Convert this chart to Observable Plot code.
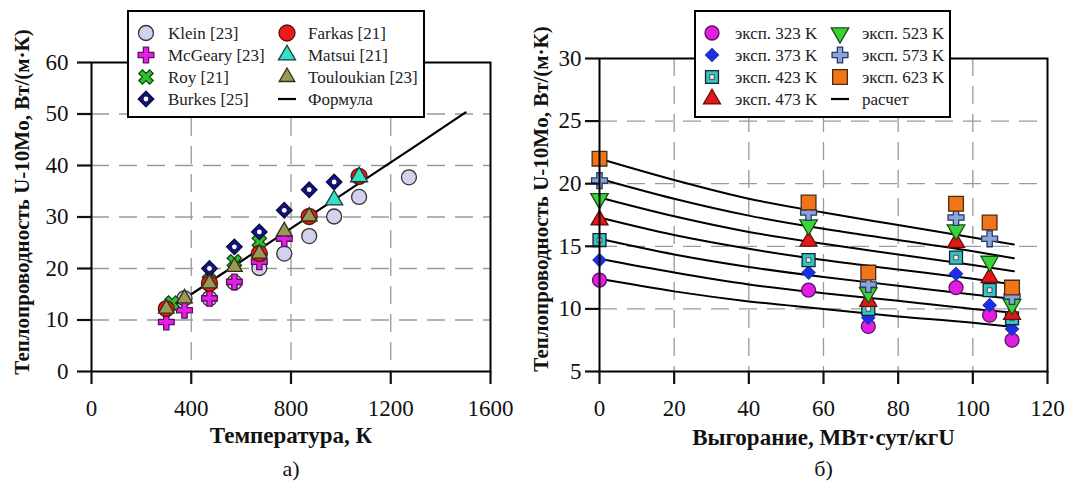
<!DOCTYPE html>
<html><head><meta charset="utf-8">
<script src="https://cdn.jsdelivr.net/npm/d3@7"></script>
<script src="https://cdn.jsdelivr.net/npm/@observablehq/plot@0.6"></script>
<style>
body{margin:0;background:#fff;width:1066px;height:483px;overflow:hidden;position:relative;}
#left,#right{position:absolute;top:0;}
#left{left:0}
#right{left:520px}
#overlay{position:absolute;top:0;left:0;pointer-events:none;}
</style></head><body>
<div id="left"></div><div id="right"></div>
<svg id="overlay" width="1066" height="483"></svg>
<script>
// ---------- Panel a) data ----------
const tempTicks = [0, 400, 800, 1200, 1600];
const condTicksA = [0, 10, 20, 30, 40, 50, 60];
const kleinT = [373, 473, 573, 673, 773, 873, 973, 1073, 1273];
const kleinK = [14.2, 14.2, 17.3, 20.1, 22.9, 26.3, 30.1, 33.9, 37.7];
const mcgearyT = [300, 373, 473, 573, 673, 773];
const mcgearyK = [9.6, 11.9, 14.2, 17.4, 21.3, 25.8];
const royT = [323, 473, 573, 673];
const royK = [13.3, 17.6, 21.3, 25.2];
const burkesT = [473, 573, 673, 773, 873, 973];
const burkesK = [20.0, 24.2, 27.1, 31.3, 35.3, 36.8];
const farkasT = [300, 473, 673, 873, 1073];
const farkasK = [12.2, 17.1, 22.9, 30.1, 37.9];
const matsuiT = [973, 1073];
const matsuiK = [33.3, 37.8];
const toulT = [300, 373, 473, 573, 673, 773, 873];
const toulK = [12.2, 14.2, 17.1, 20.3, 22.9, 27.2, 30.1];
const formulaT = [300, 500, 700, 900, 1100, 1300, 1500];
const formulaK = [11.8, 18.2, 24.6, 31.0, 37.4, 43.8, 50.3];

// ---------- Panel б) data ----------
const burnTicks = [0, 20, 40, 60, 80, 100, 120];
const condTicksB = [5, 10, 15, 20, 25, 30];
const burnup = [0, 56, 72, 95.5, 104.5, 110.5];
const exp323 = [12.3, 11.5, 8.6, 11.7, 9.5, 7.5];
const exp373 = [13.9, 12.9, 9.3, 12.8, 10.3, 8.4];
const exp423 = [15.5, 13.9, 10.0, 14.1, 11.5, 9.25];
const exp473 = [17.1, 15.4, 10.6, 15.3, 12.5, 9.55];
const exp523 = [18.8, 16.7, 11.3, 16.3, 13.8, 10.35];
const exp573 = [20.25, 17.7, 11.95, 17.3, 15.6, 11.0];
const exp623 = [22.0, 18.5, 12.9, 18.4, 16.9, 11.7];
const calcBurnup = [0, 20, 40, 60, 80, 100, 111];
const calc323 = [12.4, 11.4, 10.6, 10.0, 9.4, 8.9, 8.55];
const calc373 = [14.0, 12.9, 11.95, 11.25, 10.65, 10.0, 9.7];
const calc423 = [15.6, 14.35, 13.35, 12.55, 11.85, 11.15, 10.8];
const calc473 = [17.3, 15.9, 14.8, 13.9, 13.15, 12.4, 11.95];
const calc523 = [18.9, 17.4, 16.15, 15.2, 14.35, 13.5, 13.0];
const calc573 = [20.4, 18.8, 17.45, 16.4, 15.5, 14.6, 14.05];
const calc623 = [22.0, 20.3, 18.8, 17.7, 16.7, 15.7, 15.15];

// ---------- symbols ----------
const symX = {draw(ctx, size){
  const r = Math.sqrt(size / 5) / 2, c = Math.SQRT1_2;
  const p = [[-3*r,-r],[-r,-r],[-r,-3*r],[r,-3*r],[r,-r],[3*r,-r],[3*r,r],[r,r],[r,3*r],[-r,3*r],[-r,r],[-3*r,r]];
  p.forEach(([x,y],i)=>{const X=(x-y)*c, Y=(x+y)*c; i?ctx.lineTo(X,Y):ctx.moveTo(X,Y);});
  ctx.closePath();
}};
const symTriDown = {draw(ctx, size){
  const s3 = Math.sqrt(3), y = -Math.sqrt(size / (s3 * 3));
  ctx.moveTo(0, -y * 2); ctx.lineTo(-s3 * y, y); ctx.lineTo(s3 * y, y); ctx.closePath();
}};

const FONT = '"Liberation Serif","Times New Roman","DejaVu Serif",serif';
const pts = (xs, ys) => xs.map((x, i) => ({x, y: ys[i]}));

const seriesA = [
  {name:"Klein [23]", xs:kleinT, ys:kleinK, sym:d3.symbolCircle, r:7.5, fill:"#d2d2ee", stroke:"#333"},
  {name:"McGeary [23]", xs:mcgearyT, ys:mcgearyK, sym:d3.symbolCross, r:6.6, fill:"#e61ee6", stroke:"#5a1060"},
  {name:"Roy [21]", xs:royT, ys:royK, sym:symX, r:6.4, fill:"#2ec02e", stroke:"#114411"},
  {name:"Burkes [25]", xs:burkesT, ys:burkesK, sym:d3.symbolDiamond2, r:7, fill:"#141478", stroke:"#0a0a40", inner:{sym:d3.symbolCircle, r:2.4, fill:"#fff"}},
  {name:"Farkas [21]", xs:farkasT, ys:farkasK, sym:d3.symbolCircle, r:8, fill:"#ee1a1a", stroke:"#551111"},
  {name:"Matsui [21]", xs:matsuiT, ys:matsuiK, sym:d3.symbolTriangle, r:6.3, fill:"#35e0c4", stroke:"#1a3a3a"},
  {name:"Touloukian [23]", xs:toulT, ys:toulK, sym:d3.symbolTriangle, r:5.8, fill:"#9c9858", stroke:"#303018"}
];
const seriesB = [
  {name:"эксп. 323 K", ys:exp323, calc:calc323, sym:d3.symbolCircle, r:7, fill:"#e21ee2", stroke:"#5a1060"},
  {name:"эксп. 373 K", ys:exp373, calc:calc373, sym:d3.symbolDiamond2, r:5.8, fill:"#1a30e6", stroke:"#1a30c0"},
  {name:"эксп. 423 K", ys:exp423, calc:calc423, sym:d3.symbolSquare, r:7.3, fill:"#36c4c0", stroke:"#123"},
  {name:"эксп. 473 K", ys:exp473, calc:calc473, sym:d3.symbolTriangle, r:6.3, fill:"#e41616", stroke:"#601010"},
  {name:"эксп. 523 K", ys:exp523, calc:calc523, sym:symTriDown, r:6.5, fill:"#3ad43a", stroke:"#145014"},
  {name:"эксп. 573 K", ys:exp573, calc:calc573, sym:d3.symbolCross, r:6.7, fill:"#8aa4dc", stroke:"#2a3a60"},
  {name:"эксп. 623 K", ys:exp623, calc:calc623, sym:d3.symbolSquare, r:8.3, fill:"#f2741a", stroke:"#4a2a10"}
];
seriesB[2].inner = {sym:d3.symbolSquare, r:2.6, fill:"#f6eaf4", stroke:"#333"};

function dotMarks(data, s){
  const m = [Plot.dot(data, {x:"x", y:"y", symbol:s.sym, r:s.r, fill:s.fill, stroke:s.stroke, strokeWidth:1.3})];
  if (s.inner) m.push(Plot.dot(data, {x:"x", y:"y", symbol:s.inner.sym, r:s.inner.r, fill:s.inner.fill, stroke:s.inner.stroke || "none", strokeWidth:0.8}));
  return m;
}

const grid = {stroke:"#9a9a9a", strokeOpacity:1, strokeWidth:1.3, strokeDasharray:"18,10"};
const TICK = 23, XLAB = 23, YLAB = 21;

// ---------- Panel a) ----------
const plotA = Plot.plot({
  width: 530, height: 483,
  marginLeft: 91, marginRight: 40, marginTop: 62, marginBottom: 112,
  style: {fontFamily: FONT, fontSize: TICK + "px", color: "#111", background: "transparent"},
  x: {domain: [0, 1600]},
  y: {domain: [0, 60]},
  marks: [
    Plot.gridX(tempTicks.slice(1, -1), grid),
    Plot.gridY(condTicksA.slice(1, -1), grid),
    Plot.line(pts(formulaT, formulaK), {x:"x", y:"y", stroke:"#000", strokeWidth:2.2}),
    ...seriesA.flatMap(s => dotMarks(pts(s.xs, s.ys), s)),
    Plot.frame({stroke:"#000", strokeWidth:2}),
    Plot.axisX(tempTicks, {tickSize:13, tickPadding:15, strokeWidth:2.2, label:null, tickFormat:d=>String(d), fontSize:TICK}),
    Plot.axisY(condTicksA, {tickSize:14, tickPadding:9, strokeWidth:2.2, label:null, tickFormat:d=>String(d), fontSize:TICK}),
    Plot.text(["Теплопроводность U-10Mo, Вт/(м·К)"], {frameAnchor:"left", textAnchor:"middle", rotate:-90, dx:-69, dy:-15, fontWeight:"bold", fontSize:YLAB}),
    Plot.text(["Температура, К"], {frameAnchor:"bottom", textAnchor:"middle", lineAnchor:"middle", dy:64, fontWeight:"bold", fontSize:XLAB}),
    Plot.text(["а)"], {frameAnchor:"bottom", textAnchor:"middle", lineAnchor:"middle", dy:97, fontSize:22})
  ]
});
document.getElementById("left").append(plotA);

// ---------- Panel б) ----------
const plotB = Plot.plot({
  width: 546, height: 483,
  marginLeft: 79, marginRight: 19, marginTop: 58, marginBottom: 112,
  style: {fontFamily: FONT, fontSize: TICK + "px", color: "#111", background: "transparent"},
  x: {domain: [0, 120]},
  y: {domain: [5, 30]},
  marks: [
    Plot.gridX(burnTicks.slice(1, -1), grid),
    Plot.gridY(condTicksB.slice(1, -1), grid),
    ...seriesB.map(s => Plot.line(pts(calcBurnup, s.calc), {x:"x", y:"y", stroke:"#000", strokeWidth:2, curve:"monotone-x"})),
    ...seriesB.flatMap(s => dotMarks(pts(burnup, s.ys), s)),
    Plot.frame({stroke:"#000", strokeWidth:2}),
    Plot.axisX(burnTicks, {tickSize:13, tickPadding:15, strokeWidth:2.2, label:null, tickFormat:d=>String(d), fontSize:TICK}),
    Plot.axisY(condTicksB, {tickSize:14, tickPadding:4, strokeWidth:2.2, label:null, tickFormat:d=>String(d), fontSize:TICK}),
    Plot.text(["Теплопроводность U-10Mo, Вт/(м·К)"], {frameAnchor:"left", textAnchor:"middle", rotate:-90, dx:-58, dy:-16, fontWeight:"bold", fontSize:YLAB}),
    Plot.text(["Выгорание, МВт·сут/кгU"], {frameAnchor:"bottom", textAnchor:"middle", lineAnchor:"middle", dy:66, fontWeight:"bold", fontSize:XLAB}),
    Plot.text(["б)"], {frameAnchor:"bottom", textAnchor:"middle", lineAnchor:"middle", dy:97, fontSize:22})
  ]
});
document.getElementById("right").append(plotB);

// ---------- Legends ----------
const ov = d3.select("#overlay");
function legend(items, g){
  const L = ov.append("g");
  L.append("rect").attr("x", g.x).attr("y", g.y).attr("width", g.w).attr("height", g.h)
    .attr("fill", "#fff").attr("stroke", "#000").attr("stroke-width", 2);
  items.forEach((it, i) => {
    const col = i < 4 ? 0 : 1, row = i % 4;
    const mx = col ? g.m2 : g.m1, tx = col ? g.t2 : g.t1, y = g.rows[row];
    if (it.line) {
      L.append("line").attr("x1", mx - 9).attr("x2", mx + 9).attr("y1", y).attr("y2", y).attr("stroke", "#000").attr("stroke-width", 2.2);
    } else {
      L.append("path").attr("transform", `translate(${mx},${y})`)
        .attr("d", d3.symbol(it.sym, Math.PI * it.r * it.r)())
        .attr("fill", it.fill).attr("stroke", it.stroke).attr("stroke-width", 1.3);
      if (it.inner) L.append("path").attr("transform", `translate(${mx},${y})`)
        .attr("d", d3.symbol(it.inner.sym, Math.PI * it.inner.r * it.inner.r)())
        .attr("fill", it.inner.fill).attr("stroke", it.inner.stroke || "none").attr("stroke-width", 0.8);
    }
    L.append("text").attr("x", tx).attr("y", y).attr("dy", "0.35em")
      .style("font-family", FONT).attr("font-size", 17).attr("fill", "#222").text(it.name);
  });
}
legend([...seriesA, {name:"Формула", line:true}],
  {x:128, y:11, w:296, h:106, m1:146, t1:168, m2:287, t2:308, rows:[33, 55, 77, 99]});
legend([...seriesB, {name:"расчет", line:true}],
  {x:695, y:11, w:255, h:106, m1:712, t1:735, m2:840, t2:862, rows:[33, 55, 77, 99]});
</script>
</body></html>
